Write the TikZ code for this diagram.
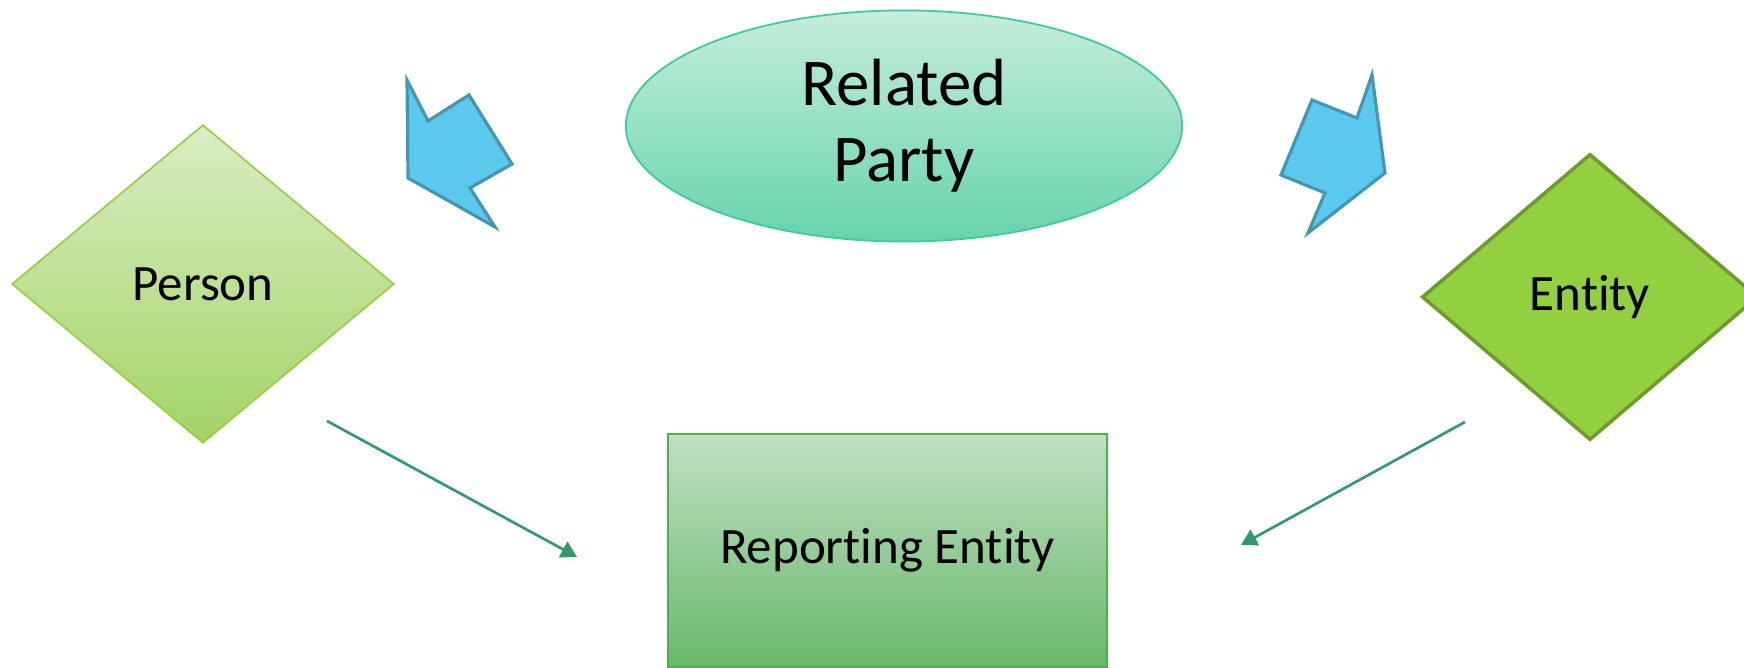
\documentclass[tikz,border=0pt]{standalone}
\usepackage{fontspec}
\setmainfont{Carlito}[Ligatures=NoCommon]
\usepackage{tikz}
\usetikzlibrary{shapes.geometric}
\usetikzlibrary{arrows.meta}
\usepackage{xcolor}
\definecolor{ColParty}{RGB}{61,203,154}
\definecolor{ColPartyTop}{RGB}{197,237,220}
\definecolor{ColPartyBot}{RGB}{102,212,171}
\definecolor{ColPerson}{RGB}{147,206,63}
\definecolor{ColPersonTop}{RGB}{216,237,194}
\definecolor{ColPersonBot}{RGB}{163,212,101}
\definecolor{ColEntity}{RGB}{146,208,64}
\definecolor{ColEntityLine}{RGB}{110,155,44}
\definecolor{ColReport}{RGB}{76,176,80}
\definecolor{ColReportTop}{RGB}{192,224,195}
\definecolor{ColReportBot}{RGB}{105,184,107}
\definecolor{ColBlue}{RGB}{91,201,237}
\definecolor{ColBlueLine}{RGB}{67,151,179}
\definecolor{ColLink}{RGB}{46,154,110}
\tikzstyle{PartyNode}=[ellipse,draw=ColParty,top color=ColPartyTop,bottom color=ColPartyBot,
line width=0.5pt,inner sep=0pt,minimum width=5.56cm,minimum height=2.31cm,align=center,
font=\fontsize{19}{21.5}\selectfont]
\tikzstyle{KindNode}=[diamond,inner sep=0pt,aspect=1.2,font=\fontsize{14.5}{17}\selectfont]
\tikzstyle{ReportNode}=[rectangle,draw=ColReport,top color=ColReportTop,bottom color=ColReportBot,
line width=0.6pt,inner sep=0pt,minimum width=4.39cm,minimum height=2.33cm,
font=\fontsize{14.5}{17}\selectfont]
\tikzstyle{BlockArrow}=[fill=ColBlue,draw=ColBlueLine,line width=0.9pt,line join=miter]
\tikzstyle{LinkArrow}=[ColLink,line width=0.75pt,-{Triangle[length=4.5pt,width=5pt]}]

\begin{document}
\begin{tikzpicture}[x=0.01cm,y=-0.01cm]
        \clip(0,0)rectangle(1744,668);
        \node[PartyNode](party)at(904,126){Related\\Party};
        \node[KindNode,draw=ColPerson,top color=ColPersonTop,bottom color=ColPersonBot,line width=0.45pt,
            minimum width=3.82cm,minimum height=3.18cm](person)at(203,284){Person};
        \node[KindNode,draw=ColEntityLine,fill=ColEntity,line width=1pt,
            minimum width=3.36cm,minimum height=2.86cm](entity)at(1590,297){Entity};
        \node[ReportNode](report)at(887.5,550.5){Reporting Entity};
        % block arrows out of the ellipse
        \draw[BlockArrow](407,80)--(428,121)--(469,95)--(512,164)--(470,188)--(495,227)--(408,178)--cycle;
        \draw[BlockArrow](1372,75)--(1357,118)--(1312,100)--(1281,175)--(1325,193)--(1308,233)--(1385,173)--cycle;
        % links to the reporting entity
        \coordinate(personout)at(327,421);
        \coordinate(reportleft)at(577,557);
        \coordinate(entityout)at(1465,422);
        \coordinate(reportright)at(1241,545);
        \draw[LinkArrow](personout)--(reportleft);
        \draw[LinkArrow](entityout)--(reportright);
    \end{tikzpicture}
\end{document}
